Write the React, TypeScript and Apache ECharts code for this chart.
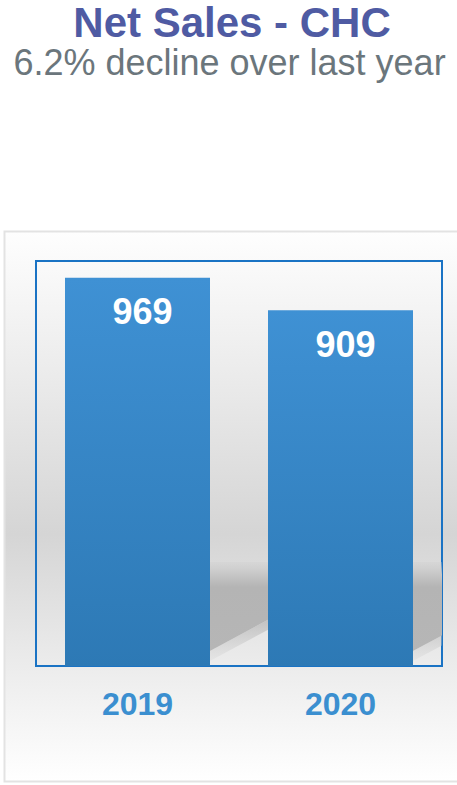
import React, { useEffect, useRef } from "react";
import * as echarts from "echarts";

const categories = ["2019", "2020"];
const netSales = [969, 909];
const axisMin = 250;
const axisMax = 1000;
const titleText = "Net Sales - CHC";
const subtitleText = "6.2% decline over last year";

const BAR_W = 145;

export default function App() {
  const ref = useRef<HTMLDivElement>(null);

  useEffect(() => {
    if (!ref.current) return;
    const chart = echarts.init(ref.current, undefined, { renderer: "svg" });
    const font = "'Liberation Sans', Arial, sans-serif";
    const option: any = {
      animation: false,
      graphic: [
        {
          type: "rect",
          z: -10,
          silent: true,
          shape: { x: 4.5, y: 231.5, width: 470, height: 550 },
          style: {
            fill: new echarts.graphic.LinearGradient(0, 0, 0, 1, [
              { offset: 0, color: "#fefefe" },
              { offset: 0.25, color: "#ececec" },
              { offset: 0.55, color: "#d5d5d5" },
              { offset: 0.78, color: "#ebebeb" },
              { offset: 0.88, color: "#f4f4f4" },
              { offset: 1, color: "#ffffff" },
            ]),
            stroke: "#e3e3e3",
            lineWidth: 2,
          },
        },
        {
          type: "text",
          x: 232,
          y: 22.5,
          style: {
            text: titleText,
            fill: "#4f5ba3",
            font: `bold 42px ${font}`,
            lineHeight: 40,
            align: "center",
            verticalAlign: "middle",
          },
        },
        {
          type: "text",
          x: 229.5,
          y: 62.5,
          style: {
            text: subtitleText,
            fill: "#6b767c",
            font: `36px ${font}`,
            lineHeight: 34,
            align: "center",
            verticalAlign: "middle",
          },
        },
      ],
      grid: {
        left: 36,
        right: 15,
        top: 261,
        bottom: 119,
        show: true,
        borderColor: "#1a73c4",
        borderWidth: 2,
        backgroundColor: "transparent",
      },
      xAxis: {
        type: "category",
        data: categories,
        axisLine: { show: false },
        axisTick: { show: false },
        axisLabel: {
          margin: 22,
          color: "#3b8fd0",
          fontSize: 32,
          fontWeight: "bold",
          fontFamily: font,
        },
      },
      yAxis: {
        type: "value",
        min: axisMin,
        max: axisMax,
        show: false,
        splitLine: { show: false },
      },
      series: [
        {
          type: "custom",
          z: 1,
          clip: true,
          silent: true,
          data: netSales.map((v, i) => [i, v]),
          encode: { x: 0, y: 1 },
          renderItem: (params: any, api: any) => {
            const base = api.coord([api.value(0), axisMin]);
            const r = base[0] + BAR_W / 2;
            const yb = base[1];
            const w = 75;
            const top = yb - 104;
            const mainPts = [
              [r - 2, top],
              [r + w, top],
              [r + w, yb - 14 - 0.55 * w],
              [r - 2, yb - 14],
            ];
            const softPts = [
              [r - 2, yb - 14],
              [r + w, yb - 14 - 0.55 * w],
              [r + w, yb - 4 - 0.55 * w],
              [r - 2, yb - 4],
            ];
            return {
              type: "group",
              children: [
                {
                  type: "polygon",
                  shape: { points: softPts },
                  style: {
                    fill: new echarts.graphic.LinearGradient(0, 0, 0, 1, [
                      { offset: 0, color: "rgba(180,180,180,0.9)" },
                      { offset: 1, color: "rgba(200,200,200,0.15)" },
                    ]),
                  },
                },
                {
                  type: "polygon",
                  shape: { points: mainPts },
                  style: {
                    fill: new echarts.graphic.LinearGradient(0, 0, 0, 1, [
                      { offset: 0, color: "rgba(205,205,205,0.3)" },
                      { offset: 0.14, color: "#c6c6c6" },
                      { offset: 0.28, color: "#b4b4b4" },
                      { offset: 1, color: "#b6b6b6" },
                    ]),
                  },
                },
              ],
            };
          },
        },
        {
          type: "bar",
          z: 2,
          data: netSales,
          barWidth: BAR_W,
          itemStyle: {
            color: new echarts.graphic.LinearGradient(0, 0, 0, 1, [
              { offset: 0, color: "#3f91d4" },
              { offset: 1, color: "#2d79b5" },
            ]),
          },
          label: {
            show: true,
            position: "insideTop",
            distance: 16,
            offset: [5, 0],
            color: "#ffffff",
            fontSize: 36,
            fontWeight: "bold",
            fontFamily: font,
          },
        },
      ],
    };
    chart.setOption(option);
    return () => chart.dispose();
  }, []);

  return (
    <div
      ref={ref}
      style={{ position: "fixed", left: 0, top: 0, width: 457, height: 785, background: "#ffffff" }}
    />
  );
}
